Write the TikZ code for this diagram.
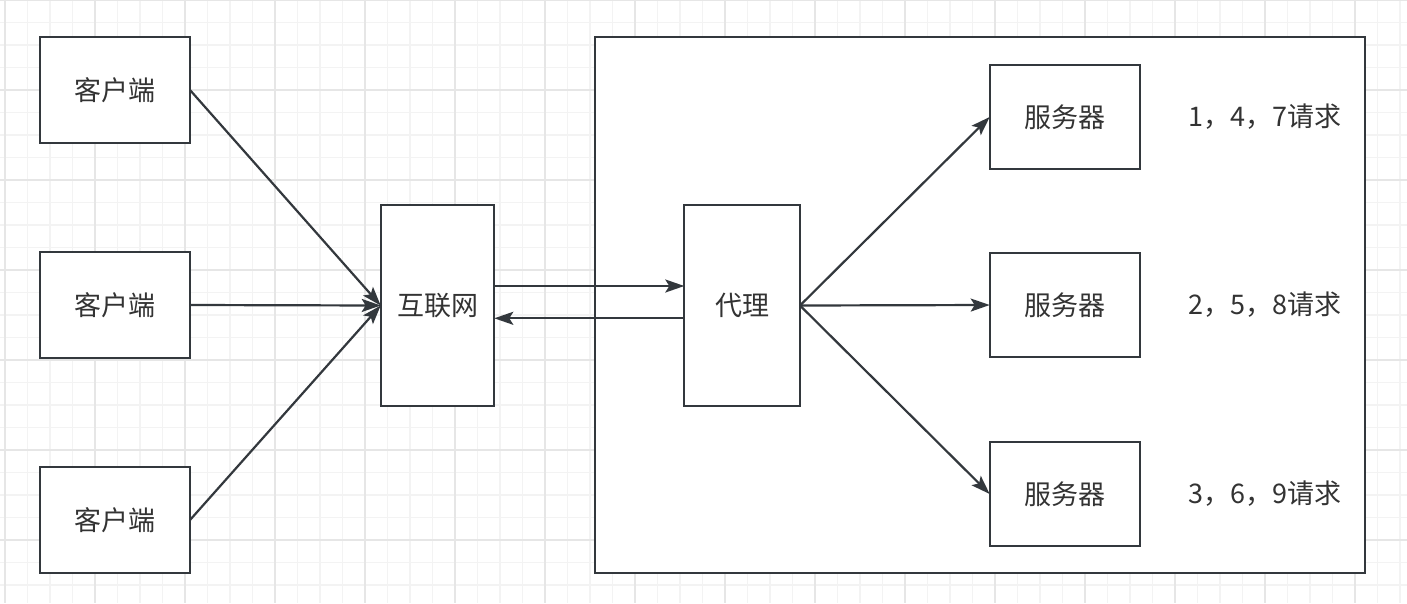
\documentclass[tikz,border=0pt]{standalone}
\usepackage{fontspec}
\setmainfont{Noto Sans CJK SC}
\usetikzlibrary{arrows.meta}
\definecolor{ink}{HTML}{33383D}
\definecolor{txt}{HTML}{333333}
\definecolor{gridminor}{HTML}{F3F3F3}
\definecolor{gridmajor}{HTML}{E6E6E6}
\tikzset{
  box/.style={draw=ink, line width=2.3pt, fill=white, inner sep=0pt, outer sep=0pt,
    font=\fontsize{27}{32}\selectfont, text=txt},
  lbl/.style={inner sep=0pt, font=\fontsize{27}{32}\selectfont, text=txt},
  arr/.style={draw=ink, line width=2.2pt, -{Stealth[length=19pt,width=13pt,inset=4pt]}},
}
\begin{document}
\begin{tikzpicture}[x=1pt,y=-1pt]
\useasboundingbox (0,0) rectangle (1407,603);
\fill[white] (0,0) rectangle (1407,603);
% grid
\foreach \x in {5,27.5,...,1407} \draw[gridminor, line width=1.2pt] (\x,0) -- (\x,603);
\foreach \y in {0,22.5,...,603} \draw[gridminor, line width=1.2pt] (0,\y) -- (1407,\y);
\foreach \x in {5,95,...,1407} \draw[gridmajor, line width=1.2pt] (\x,0) -- (\x,603);
\foreach \y in {0,90,...,603} \draw[gridmajor, line width=1.2pt] (0,\y) -- (1407,\y);

% container
\node[box, minimum width=770.3pt, minimum height=535.7pt] (ctr) at (979.85,305.15) {};

% clients
\node[box, minimum width=150.3pt, minimum height=105.4pt] (c1) at (114.85,90) {客户端};
\node[box, minimum width=150.3pt, minimum height=105.4pt] (c2) at (114.85,305) {客户端};
\node[box, minimum width=150.3pt, minimum height=105.4pt] (c3) at (114.85,520) {客户端};

% internet and proxy
\node[box, minimum width=113.6pt, minimum height=201pt] (net) at (437.5,305.5) {互联网};
\node[box, minimum width=115.7pt, minimum height=201pt] (px) at (742.15,305.5) {代理};

% servers
\node[box, minimum width=150pt, minimum height=104.6pt] (s1) at (1064.7,117) {服务器};
\node[box, minimum width=150pt, minimum height=104.6pt] (s2) at (1064.7,305) {服务器};
\node[box, minimum width=150pt, minimum height=104.6pt] (s3) at (1064.7,494) {服务器};

% labels
\node[lbl] (l1) at (1265,117) {1，4，7请求};
\node[lbl] (l2) at (1265,305) {2，5，8请求};
\node[lbl] (l3) at (1265,494) {3，6，9请求};

% connectors
\draw[arr] (c1.east) -- (net.west);
\draw[arr] (c2.east) -- (net.west);
\draw[arr] (c3.east) -- (net.west);
\draw[arr] ([yshift=19.5pt]net.east) -- ([yshift=19.5pt]px.west);
\draw[arr] ([yshift=-12.8pt]px.west) -- ([yshift=-12.8pt]net.east);
\draw[arr] (px.east) -- (s1.west);
\draw[arr] (px.east) -- (s2.west);
\draw[arr] (px.east) -- (s3.west);
\end{tikzpicture}
\end{document}
